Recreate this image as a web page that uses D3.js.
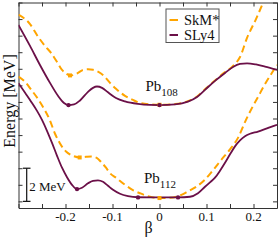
<!DOCTYPE html>
<html>
<head>
<meta charset="utf-8">
<script src="https://cdn.jsdelivr.net/npm/d3@7"></script>
<style>
  body { margin: 0; background: #fff; }
</style>
</head>
<body>
<div id="chart"></div>
<script>
// beta values and energies [MeV]
const sly4Pb108Beta = [-0.30, -0.2755, -0.2543, -0.233, -0.216, -0.2032, -0.1936, -0.1819, -0.1691, -0.1521, -0.1415, -0.133, -0.1223, -0.1096, -0.0926, -0.0734, -0.0457, -0.0202, 0, 0.033, 0.0606, 0.0798, 0.0968, 0.1181, 0.1394, 0.1564, 0.1713, 0.1862, 0.2053, 0.2245, 0.25]
const sly4Pb108E    = [10.64, 9.38, 8.23, 7.15, 6.37, 5.94, 5.81, 5.85, 6.09, 6.61, 6.85, 6.93, 6.85, 6.58, 6.24, 6.03, 5.88, 5.82, 5.81, 5.85, 6.02, 6.30, 6.73, 7.27, 7.75, 8.11, 8.29, 8.33, 8.26, 8.13, 7.93]

const skmPb108Beta = [-0.30, -0.2755, -0.2585, -0.2436, -0.2302, -0.218, -0.2074, -0.1989, -0.1904, -0.1819, -0.1734, -0.1628, -0.1521, -0.1415, -0.1309, -0.1181, -0.1053, -0.0926, -0.0734, -0.0564, -0.0415, -0.0202, 0, 0.033, 0.0606, 0.0798, 0.0968, 0.1181, 0.1394, 0.1543, 0.1628, 0.1713, 0.1862, 0.2053, 0.2245]
const skmPb108E    = [11.27, 10.70, 9.94, 9.38, 8.94, 8.41, 7.93, 7.72, 7.60, 7.63, 7.75, 7.93, 7.97, 7.94, 7.83, 7.57, 7.15, 6.79, 6.37, 6.12, 5.94, 5.85, 5.83, 5.87, 6.05, 6.33, 6.76, 7.30, 7.80, 8.11, 8.35, 8.71, 9.86, 11.00, 12.27]

const sly4Pb112Beta = [-0.30, -0.286, -0.2728, -0.2606, -0.25, -0.2394, -0.2287, -0.218, -0.2074, -0.1968, -0.1862, -0.1755, -0.1649, -0.1521, -0.1415, -0.1309, -0.1202, -0.1096, -0.0989, -0.084, -0.067, -0.0457, -0.0202, 0, 0.0394, 0.0649, 0.0819, 0.0968, 0.1074, 0.1181, 0.1287, 0.1394, 0.15, 0.1606, 0.1713, 0.1819, 0.1926, 0.2096, 0.2287, 0.25]
const sly4Pb112E    = [7.13, 6.55, 6.00, 5.46, 4.92, 4.26, 3.53, 2.75, 2.03, 1.46, 1.00, 0.74, 0.82, 1.09, 1.24, 1.27, 1.18, 0.94, 0.70, 0.46, 0.32, 0.25, 0.24, 0.24, 0.24, 0.28, 0.49, 0.88, 1.15, 1.43, 1.85, 2.33, 2.84, 3.32, 3.68, 3.93, 4.08, 4.21, 4.41, 4.62]

const skmPb112Beta = [-0.30, -0.286, -0.2728, -0.2585, -0.2443, -0.2336, -0.2223, -0.2123, -0.2032, -0.1947, -0.1819, -0.1698, -0.1564, -0.1451, -0.1336, -0.1238, -0.1138, -0.1053, -0.0926, -0.0734, -0.0557, -0.0415, -0.0309, -0.016, 0, 0.0223, 0.0394, 0.0606, 0.0798, 0.0962, 0.1138, 0.1315, 0.15, 0.167, 0.184, 0.1968, 0.2096, 0.2223, 0.2351, 0.25]
const skmPb112E    = [7.53, 7.21, 6.73, 6.18, 5.52, 4.92, 4.08, 3.52, 3.14, 2.91, 2.72, 2.65, 2.69, 2.71, 2.63, 2.36, 2.03, 1.70, 1.43, 1.00, 0.67, 0.49, 0.37, 0.25, 0.20, 0.22, 0.31, 0.60, 0.91, 1.30, 1.88, 2.51, 3.14, 3.83, 4.92, 5.64, 6.30, 6.97, 7.57, 8.23]

// minima markers
const sly4MinBeta = [-0.1936, 0, -0.1755, -0.0457, 0.0394]
const sly4MinE    = [5.81, 5.81, 0.74, 0.24, 0.24]
const skmMinBeta  = [-0.1904, 0, -0.1698, 0]
const skmMinE     = [7.60, 5.83, 2.65, 0.20]

const xTicks = [-0.2, -0.1, 0, 0.1, 0.2]
const xMinorTicks = [-0.3, -0.25, -0.2, -0.15, -0.1, -0.05, 0, 0.05, 0.1, 0.15, 0.2, 0.25]
const yTicks = [0, 1, 2, 3, 4, 5, 6, 7, 8, 9, 10, 11, 12]
const scaleBar = [0, 2]

const width = 278, height = 241
const margin = {top: 2.5, right: 1, bottom: 33, left: 18.5}
const iw = width - margin.left - margin.right
const ih = height - margin.top - margin.bottom

const orange = '#ffa500'
const purple = '#6b1048'

const svg = d3.select('#chart').append('svg')
  .attr('width', width).attr('height', height)

const x = d3.scaleLinear().domain([-0.3, 0.25]).range([0, iw])
const y = d3.scaleLinear().domain([-0.4, 12]).range([ih, 0])

svg.append('defs').append('clipPath').attr('id', 'clip')
  .append('rect').attr('width', iw).attr('height', ih)

const g = svg.append('g').attr('transform', `translate(${margin.left},${margin.top})`)

// axes, ticks pointing inwards
const tickLen = 4
g.append('g').attr('transform', `translate(0,${ih})`)
  .call(d3.axisBottom(x).tickValues(xMinorTicks).tickSizeInner(-tickLen).tickSizeOuter(0).tickFormat(''))
g.append('g')
  .call(d3.axisTop(x).tickValues(xMinorTicks).tickSizeInner(-tickLen).tickSizeOuter(0).tickFormat(''))
g.append('g')
  .call(d3.axisLeft(y).tickValues(yTicks).tickSizeInner(-tickLen).tickSizeOuter(0).tickFormat(''))
g.append('g').attr('transform', `translate(${iw},0)`)
  .call(d3.axisRight(y).tickValues(yTicks).tickSizeInner(-tickLen).tickSizeOuter(0).tickFormat(''))
g.selectAll('.domain, .tick line').attr('stroke', '#333')

function label(sel, size) {
  return sel.attr('font-family', 'Liberation Serif').attr('font-size', size).attr('fill', '#111')
}

label(g.selectAll('.xlabel')
  .data(xTicks)
  .enter().append('text')
  .attr('x', d => x(d))
  .attr('y', ih + 13)
  .attr('text-anchor', 'middle'), 13)
  .text(d => d === 0 ? '0' : d3.format('.1f')(d).replace('−', '-'))

label(g.append('text')
  .attr('x', x(-0.023))
  .attr('y', ih + 24.5)
  .attr('text-anchor', 'middle'), 16)
  .text('β')

label(svg.append('text')
  .attr('transform', 'translate(14.5,101) rotate(-90)')
  .attr('text-anchor', 'middle'), 16)
  .text('Energy [MeV]')

// curves
const line = d3.line()
  .x(d => x(d[0]))
  .y(d => y(d[1]))
  .curve(d3.curveMonotoneX)

const curves = g.append('g').attr('clip-path', 'url(#clip)')

function drawCurve(betas, es, color, dashed) {
  curves.append('path')
    .datum(d3.zip(betas, es))
    .attr('d', line)
    .attr('fill', 'none')
    .attr('stroke', color)
    .attr('stroke-width', dashed ? 2 : 1.8)
    .attr('stroke-dasharray', dashed ? '7,4' : null)
}

drawCurve(skmPb108Beta, skmPb108E, orange, true)
drawCurve(skmPb112Beta, skmPb112E, orange, true)
drawCurve(sly4Pb108Beta, sly4Pb108E, purple, false)
drawCurve(sly4Pb112Beta, sly4Pb112E, purple, false)

curves.selectAll('.skmMin')
  .data(d3.zip(skmMinBeta, skmMinE))
  .enter().append('rect')
  .attr('x', d => x(d[0]) - 2)
  .attr('y', d => y(d[1]) - 2)
  .attr('width', 4).attr('height', 4)
  .style('fill', orange)

curves.selectAll('.sly4Min')
  .data(d3.zip(sly4MinBeta, sly4MinE))
  .enter().append('circle')
  .attr('cx', d => x(d[0]))
  .attr('cy', d => y(d[1]))
  .attr('r', 2.2)
  .style('fill', purple)

// nucleus labels
function nucleus(bx, e, mass) {
  const t = label(g.append('text')
    .attr('x', x(bx)).attr('y', y(e)), 15)
  t.append('tspan').text('Pb')
  t.append('tspan').attr('dy', 5).attr('font-size', 11).text(mass)
}
nucleus(-0.03, 6.65, '108')
nucleus(-0.033, 1.1, '112')

// 2 MeV scale bar
const bx = 8.2
g.append('line')
  .attr('x1', bx).attr('x2', bx)
  .attr('y1', y(scaleBar[0])).attr('y2', y(scaleBar[1]))
  .attr('stroke', '#111').attr('stroke-width', 1.2)
g.selectAll('.cap')
  .data(scaleBar)
  .enter().append('line')
  .attr('x1', bx - 3.8).attr('x2', bx + 3.8)
  .attr('y1', d => y(d)).attr('y2', d => y(d))
  .attr('stroke', '#111').attr('stroke-width', 1.2)
label(g.append('text')
  .attr('x', bx + 2.5)
  .attr('y', y(0.6)), 13)
  .text('2 MeV')

// legend
const legend = svg.append('g').attr('transform', 'translate(166,9)')
legend.append('rect')
  .attr('width', 53).attr('height', 33.5)
  .attr('fill', '#fff').attr('stroke', '#555').attr('stroke-width', 1)
const entries = [{name: 'SkM*', color: orange}, {name: 'SLy4', color: purple}]
entries.forEach(function(d, i) {
  legend.append('line')
    .attr('x1', 3.5).attr('x2', 12)
    .attr('y1', 11 + i * 15).attr('y2', 11 + i * 15)
    .attr('stroke', d.color).attr('stroke-width', 2)
  label(legend.append('text')
    .attr('x', 18).attr('y', 16 + i * 15), 14.5)
    .text(d.name)
})
</script>
</body>
</html>
